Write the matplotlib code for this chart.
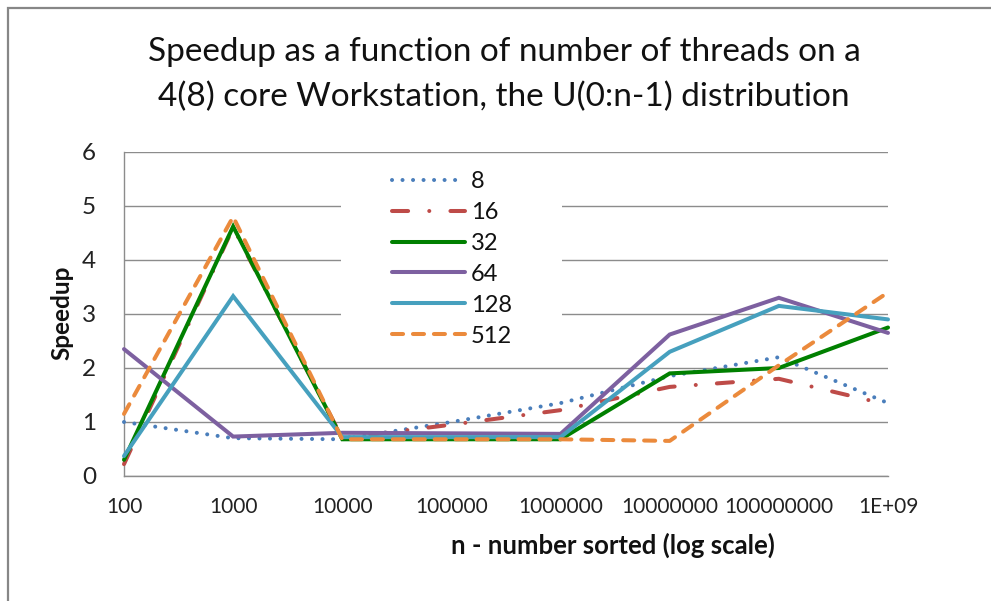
import matplotlib
matplotlib.use("Agg")
import matplotlib.pyplot as plt
from matplotlib.patches import Rectangle

# ---- data ----
categories = ["100", "1000", "10000", "100000", "1000000", "10000000", "100000000", "1E+09"]
s8 = [1.0, 0.70, 0.68, 1.00, 1.35, 1.85, 2.20, 1.35]
s16 = [0.22, 4.60, 0.70, 0.95, 1.22, 1.65, 1.80, 1.32]
s32 = [0.30, 4.62, 0.68, 0.68, 0.68, 1.90, 2.00, 2.75]
s64 = [2.35, 0.73, 0.80, 0.79, 0.78, 2.62, 3.30, 2.65]
s128 = [0.37, 3.33, 0.72, 0.72, 0.72, 2.30, 3.15, 2.90]
s512 = [1.15, 4.80, 0.68, 0.68, 0.68, 0.65, 2.05, 3.40]
series_names = ["8", "16", "32", "64", "128", "512"]
yticks = [0, 1, 2, 3, 4, 5, 6]

title = "Speedup as a function of number of threads on a\n4(8) core Workstation, the U(0:n-1) distribution"
xlabel = "n - number sorted (log scale)"
ylabel = "Speedup"

FONT = "Lato"
plt.rcParams["font.family"] = [FONT, "DejaVu Sans"]

W, H = 991, 601
fig = plt.figure(figsize=(W / 100, H / 100), dpi=100)
fig.patch.set_facecolor("white")

# outer chart border (left and top visible)
fig.patches.append(Rectangle((8 / W, -0.1), 1.2, 1 - 8 / H + 0.1, transform=fig.transFigure,
                             fill=False, edgecolor="#878787", linewidth=1.6))

ax = fig.add_axes([124 / W, 1 - 476 / H, (888 - 124) / W, (476 - 152) / H])
x = list(range(len(categories)))

lw = 2.9
styles = [
    dict(color="#4A7EBB", linestyle=(0, (0.01, 2.6))),
    dict(color="#BE4B48", linestyle=(0, (4.0, 5.25, 0.01, 5.25))),
    dict(color="#008000", linestyle="-"),
    dict(color="#7D60A0", linestyle="-"),
    dict(color="#46A0BE", linestyle="-"),
    dict(color="#EB8A3C", linestyle=(0, (2.75, 2.45))),
]
data = [s8, s16, s32, s64, s128, s512]
handles = []
for i in range(len(data)):
    h, = ax.plot(x, data[i], linewidth=lw, dash_capstyle="round", solid_capstyle="round",
                 solid_joinstyle="miter", label=series_names[i], clip_on=False, zorder=3 + i * 0.1,
                 **styles[i])
    handles.append(h)

ax.set_xlim(0, len(categories) - 1)
ax.set_ylim(0, 6)
ax.set_yticks(yticks)
ax.set_yticklabels([str(t) for t in yticks])
ax.set_xticks(x)
ax.set_xticklabels(categories)
ax.grid(axis="y", color="#8C8C8C", linewidth=1.0)
ax.set_axisbelow(True)
for sp in ["top", "right"]:
    ax.spines[sp].set_visible(False)
for sp in ["left", "bottom"]:
    ax.spines[sp].set_color("#8C8C8C")
    ax.spines[sp].set_linewidth(1.0)
ax.tick_params(axis="both", length=0)
ax.tick_params(axis="y", labelsize=17.5, pad=20, labelcolor="#222222")
ax.tick_params(axis="x", labelsize=15, pad=15, labelcolor="#222222")

fig.text(504 / W, 1 - 52 / H, title.split("\n")[0], ha="center", va="center", fontsize=24,
         color="#111111")
fig.text(504 / W, 1 - 97 / H, title.split("\n")[1], ha="center", va="center", fontsize=24,
         color="#111111")
fig.text(62 / W, 1 - 313 / H, ylabel, rotation=90, ha="center", va="center",
         fontsize=17.5, fontweight="bold", color="#111111")
fig.text(613 / W, 1 - 545 / H, xlabel, ha="center", va="center",
         fontsize=18.5, fontweight="bold", color="#111111")

# white legend background box
ax.add_patch(Rectangle(((341 - 124) / (888 - 124), (476 - 358) / 324),
                       (562 - 341) / (888 - 124), (358 - 156) / 324,
                       transform=ax.transAxes, facecolor="white", edgecolor="none", zorder=1.5))
leg = ax.legend(handles=handles, loc="upper left",
                bbox_to_anchor=((392 - 124) / (888 - 124), (476 - 171) / 324),
                frameon=False, fontsize=17, handlelength=3.1, handletextpad=0.25,
                labelspacing=0.42, borderpad=0.0, borderaxespad=0)
for t in leg.get_texts():
    t.set_color("#111111")

fig.savefig("out.png", dpi=100)
